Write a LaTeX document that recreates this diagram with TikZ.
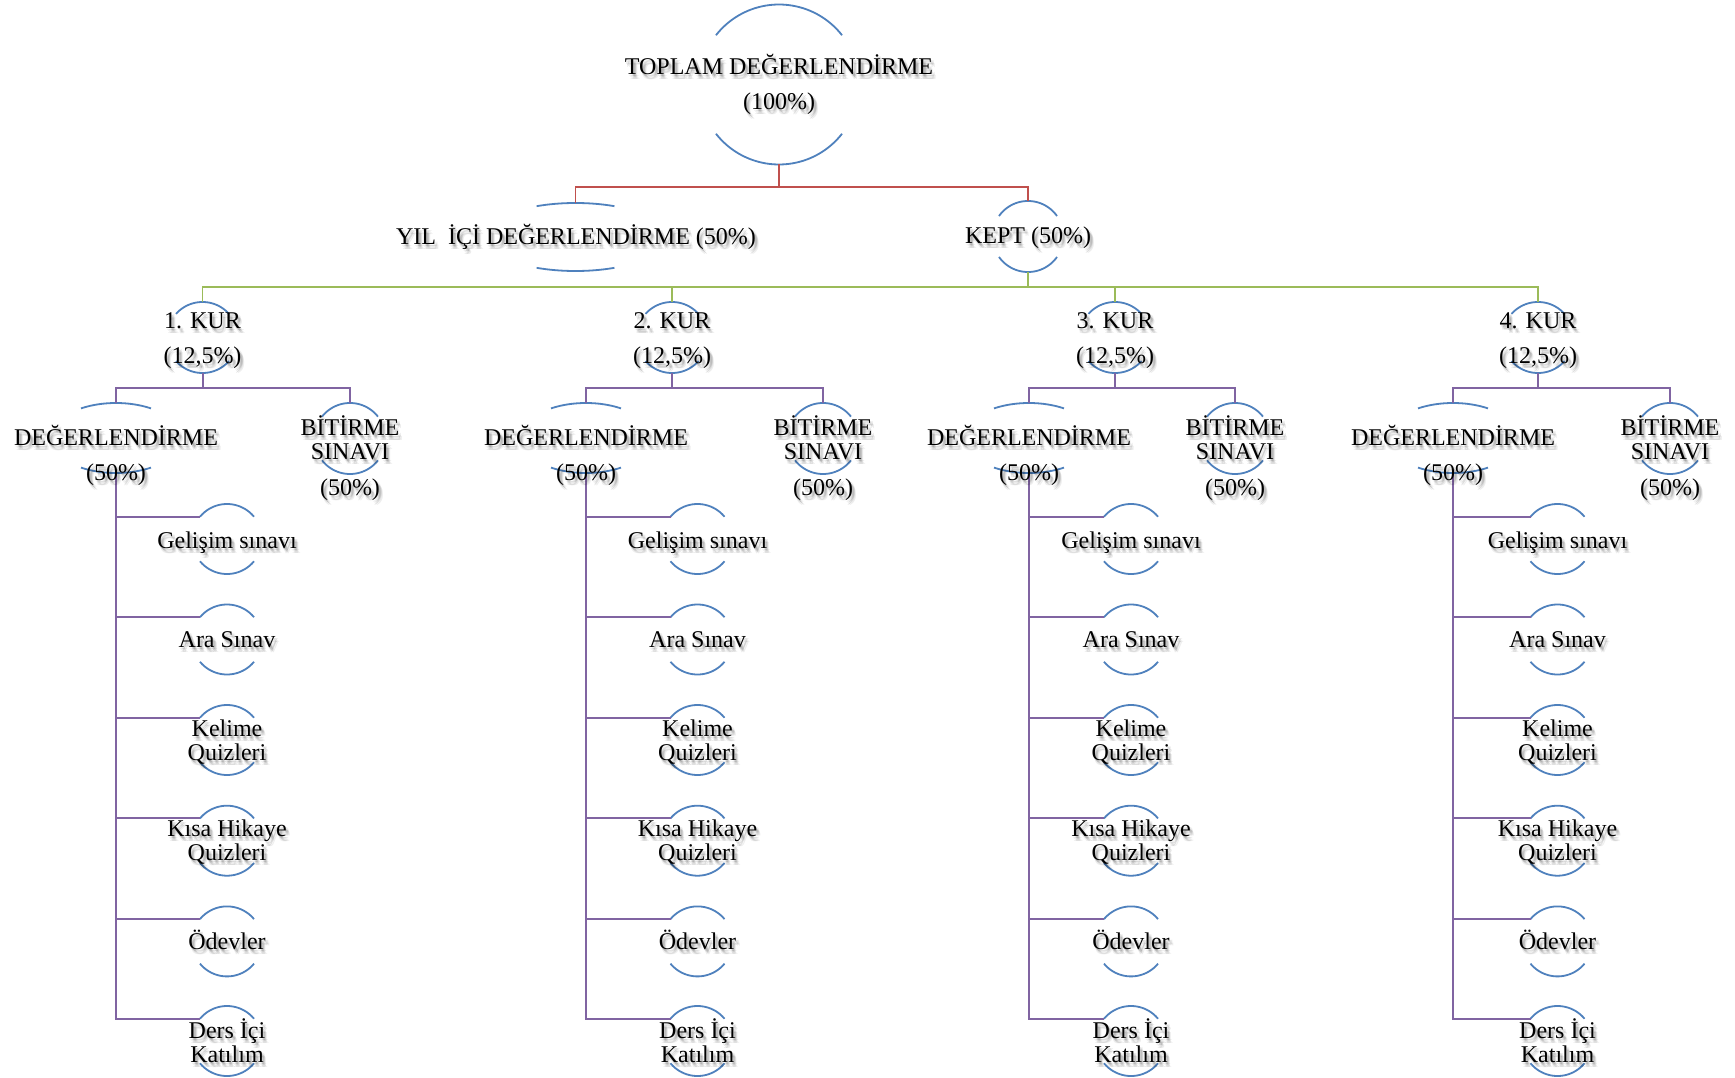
\documentclass[tikz,border=0pt]{standalone}
\usepackage{fontspec}
\setmainfont{Liberation Serif}
\usetikzlibrary{shapes.geometric}
\definecolor{arcblue}{HTML}{4F81BD}
\definecolor{lnred}{HTML}{C0504D}
\definecolor{lngreen}{HTML}{9BBB59}
\definecolor{lnpurple}{HTML}{8064A2}
\tikzset{
  arcline/.style={draw=arcblue, line width=1.8pt},
  holder/.style={shape=ellipse, draw=none, inner sep=0pt, outer sep=0pt},
  txt/.style={font=\fontsize{24}{24}\selectfont, align=center, inner sep=0pt, text=black},
  shade/.style={txt, text opacity=0.07},
  redline/.style={draw=lnred, line width=1.8pt},
  greenline/.style={draw=lngreen, line width=1.8pt},
  purpleline/.style={draw=lnpurple, line width=2pt},
}
% name, x, y, a, b, t0, 180-t0
\newcommand\hnode[7]{%
  \node[holder, minimum width={2*#4}, minimum height={2*#5}] (#1) at (#2,#3) {};
  \draw[arcline, shift={(#1.center)}] plot[domain=#6:#7, samples=40] ({#4*cos(\x)}, {-#5*sin(\x)});
  \draw[arcline, shift={(#1.center)}] plot[domain=#6:#7, samples=40] ({#4*cos(\x)}, {#5*sin(\x)});
}
% name, position, text (with a soft drop shadow as in the reference)
\newcommand\stxt[3]{%
  \foreach \sx/\sy in {1/2,2/3,3/4,2/5,3/2,4/5}{\node[shade] at ([shift={(\sx,\sy)}]#2) {#3};}
  \node[txt] (#1) at (#2) {#3};
}
\begin{document}
\begin{tikzpicture}[x=1pt, y=-1pt]
\fill[white] (0,0) rectangle (1735,1078);
\useasboundingbox (0,0) rectangle (1735,1078);

\hnode{top}{779}{84.5}{80}{80}{38}{142}
\hnode{yil}{575.5}{237}{92}{34}{65}{115}
\hnode{kept}{1028}{236.5}{35.5}{35.5}{35.2}{144.8}

\draw[redline] (top.south) -- ++(0,22.5) -| (yil.north);
\draw[redline] (top.south) -- ++(0,22.5) -| (kept.north);

\stxt{top-t}{779,84.5}{TOPLAM DEĞERLENDİRME\\[11pt](100\%)}
\stxt{yil-t}{576,237}{YIL\ \ İÇİ DEĞERLENDİRME (50\%)}
\stxt{kept-t}{1028,238}{KEPT (50\%)}

\foreach \i/\kx/\dx/\bx/\cx in {1/202.5/116/350/227, 2/672/586/823/697.5, 3/1115/1029/1235/1131, 4/1538/1453/1670/1557.5}{
  \hnode{kur\i}{\kx}{337.5}{35.5}{35.5}{41.7}{138.3}
  \hnode{deg\i}{\dx}{438}{65.5}{35}{57.7}{122.3}
  \hnode{bit\i}{\bx}{438.5}{35.5}{35.5}{38}{142}
  \draw[greenline] (kept.south) -- ++(0,15) -| (kur\i.north);
  \draw[purpleline] (kur\i.south) -- ++(0,14.5) -| (deg\i.north);
  \draw[purpleline] (kur\i.south) -- ++(0,14.5) -| (bit\i.north);
  \foreach \j/\cy/\ty/\ctext in {1/539/542.5/{Gelişim sınavı}, 2/639.5/639.5/{Ara Sınav}, 3/740/742.5/{Kelime\\Quizleri}, 4/840.7/842.2/{Kısa Hikaye\\Quizleri}, 5/941.4/939.4/{Ödevler}, 6/1041/1041/{Ders İçi\\Katılım}}{
    \hnode{c\i-\j}{\cx}{\cy}{35}{35}{39.5}{140.5}
    \draw[purpleline] (deg\i.south) |- (c\i-\j.140);
    \stxt{c\i-\j-t}{\cx,\ty}{\ctext}
  }
  \stxt{kur\i-t}{\kx,340.5}{\i. KUR\\[11pt](12,5\%)}
  \stxt{deg\i-t}{\dx,455}{DEĞERLENDİRME\\[11pt](50\%)}
  \stxt{bit\i-t}{\bx,458}{BİTİRME\\SINAVI\\[11.5pt](50\%)}
}
\end{tikzpicture}
\end{document}
